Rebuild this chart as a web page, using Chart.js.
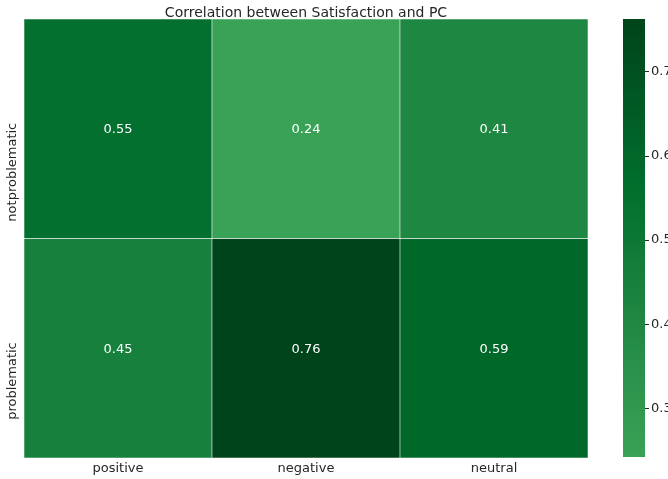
<!DOCTYPE html>
<html>
<head>
<meta charset="utf-8">
<script src="https://cdn.jsdelivr.net/npm/chart.js@4/dist/chart.umd.min.js"></script>
<style>
  html, body { margin: 0; padding: 0; background: #ffffff; overflow: hidden; width: 668px; height: 479px; }
  #wrap { position: relative; width: 668px; height: 479px; overflow: hidden; }
  #main { position: absolute; left: 0; top: 0; }
  #cbar { position: absolute; left: 600px; top: 0; }
</style>
</head>
<body>
<div id="wrap">
  <canvas id="main" width="668" height="479"></canvas>
  <canvas id="cbar" width="120" height="479"></canvas>
</div>
<script>
// ---- data ----
const titleText = 'Correlation between Satisfaction and PC';
const columns = ['positive', 'negative', 'neutral'];
const rows = ['notproblematic', 'problematic'];          // top to bottom
const notproblematicValues = [0.55, 0.242, 0.41];
const problematicValues = [0.45, 0.763, 0.59];
const colorbarTicks = [0.3, 0.4, 0.5, 0.6, 0.7];

// ---- colour map (matplotlib "Greens", seaborn center = 0) ----
const greensStops = [
  [247,252,245],[229,245,224],[199,233,192],[161,217,155],[116,196,118],
  [65,171,93],[35,139,69],[0,109,44],[0,68,27]
];
const allVals = notproblematicValues.concat(problematicValues);
const vmin = Math.min(...allVals);
const vmax = Math.max(...allVals);
const vrange = Math.max(vmax - 0, 0 - vmin);
function greens(t) {
  t = Math.max(0, Math.min(1, t));
  const p = t * (greensStops.length - 1);
  const i = Math.min(greensStops.length - 2, Math.floor(p));
  const f = p - i;
  const a = greensStops[i], b = greensStops[i + 1];
  const c = a.map((v, k) => Math.round(v + (b[k] - v) * f));
  return 'rgb(' + c.join(',') + ')';
}
function colorFor(v) { return greens((v + vrange) / (2 * vrange)); }

const FONT = "'DejaVu Sans', sans-serif";
const TXT = '#262626';

// rows stacked from bottom: problematic (0..1), notproblematic (1..2)
const datasets = [
  { label: rows[1], values: problematicValues },
  { label: rows[0], values: notproblematicValues }
].map(r => ({
  label: r.label,
  data: r.values.map(() => 1),
  vals: r.values,
  backgroundColor: r.values.map(colorFor),
  borderColor: 'rgba(255,255,255,0.85)',
  borderWidth: 0.6,
  borderSkipped: false,
  barPercentage: 1,
  categoryPercentage: 1
}));

const overlay = {
  id: 'overlay',
  afterDatasetsDraw(chart) {
    const ctx = chart.ctx;
    const xs = chart.scales.x, ys = chart.scales.y;
    ctx.save();
    // cell values
    ctx.fillStyle = '#ffffff';
    ctx.font = '13px ' + FONT;
    ctx.textAlign = 'center';
    ctx.textBaseline = 'middle';
    chart.data.datasets.forEach((ds, di) => {
      ds.vals.forEach((v, ci) => {
        ctx.fillText(v.toFixed(2), xs.getPixelForValue(ci), ys.getPixelForValue(di + 0.5) + 1);
      });
    });
    // y row labels (rotated)
    ctx.fillStyle = TXT;
    ctx.textAlign = 'right';
    chart.data.datasets.forEach((ds, di) => {
      ctx.save();
      ctx.translate(13, ys.getPixelForValue(di + 0.5) - 6);
      ctx.rotate(-Math.PI / 2);
      ctx.fillText(ds.label, 0, 0);
      ctx.restore();
    });
    // title
    ctx.textAlign = 'center';
    ctx.font = '14px ' + FONT;
    ctx.textBaseline = 'alphabetic';
    ctx.fillText(titleText, (chart.chartArea.left + chart.chartArea.right) / 2, 17);
    ctx.restore();
  }
};

new Chart(document.getElementById('main'), {
  type: 'bar',
  data: { labels: columns, datasets },
  options: {
    responsive: false,
    animation: false,
    layout: { padding: { top: 19, right: 80, left: 0, bottom: 0 } },
    plugins: { legend: { display: false }, tooltip: { enabled: false }, title: { display: false } },
    scales: {
      x: {
        stacked: true,
        grid: { display: false, drawTicks: false },
        border: { display: false },
        ticks: { color: TXT, font: { family: FONT, size: 13 }, padding: 3, maxRotation: 0 },
        afterFit(s) { s.height = 21; }
      },
      y: {
        stacked: true,
        min: 0, max: 2,
        grid: { display: false, drawTicks: false },
        border: { display: false },
        ticks: { display: false },
        afterFit(s) { s.width = 24; }
      }
    }
  },
  plugins: [overlay]
});

// ---- colour bar ----
new Chart(document.getElementById('cbar'), {
  type: 'bar',
  data: {
    labels: [''],
    datasets: [{
      data: [[vmin, vmax]],
      barPercentage: 1,
      categoryPercentage: 1,
      borderWidth: 0,
      backgroundColor(c) {
        const ca = c.chart.chartArea;
        if (!ca) return colorFor(vmax);
        const ys = c.chart.scales.y;
        const g = c.chart.ctx.createLinearGradient(0, ys.getPixelForValue(vmin), 0, ys.getPixelForValue(vmax));
        const n = 40;
        for (let i = 0; i <= n; i++) {
          g.addColorStop(i / n, colorFor(vmin + (vmax - vmin) * i / n));
        }
        return g;
      }
    }]
  },
  options: {
    responsive: false,
    animation: false,
    layout: { padding: { top: 19, bottom: 22, left: 23, right: 0 } },
    plugins: { legend: { display: false }, tooltip: { enabled: false } },
    scales: {
      x: { display: false },
      y: {
        position: 'right',
        min: vmin, max: vmax,
        afterBuildTicks(s) { s.ticks = colorbarTicks.map(v => ({ value: v })); },
        grid: { drawOnChartArea: false, drawTicks: true, tickLength: 4, color: TXT, lineWidth: 1 },
        border: { display: false },
        ticks: { color: TXT, font: { family: FONT, size: 13 }, padding: 2, callback: v => v.toFixed(1) },
        afterFit(s) { s.width = 75; }
      }
    }
  }
});
</script>
</body>
</html>
